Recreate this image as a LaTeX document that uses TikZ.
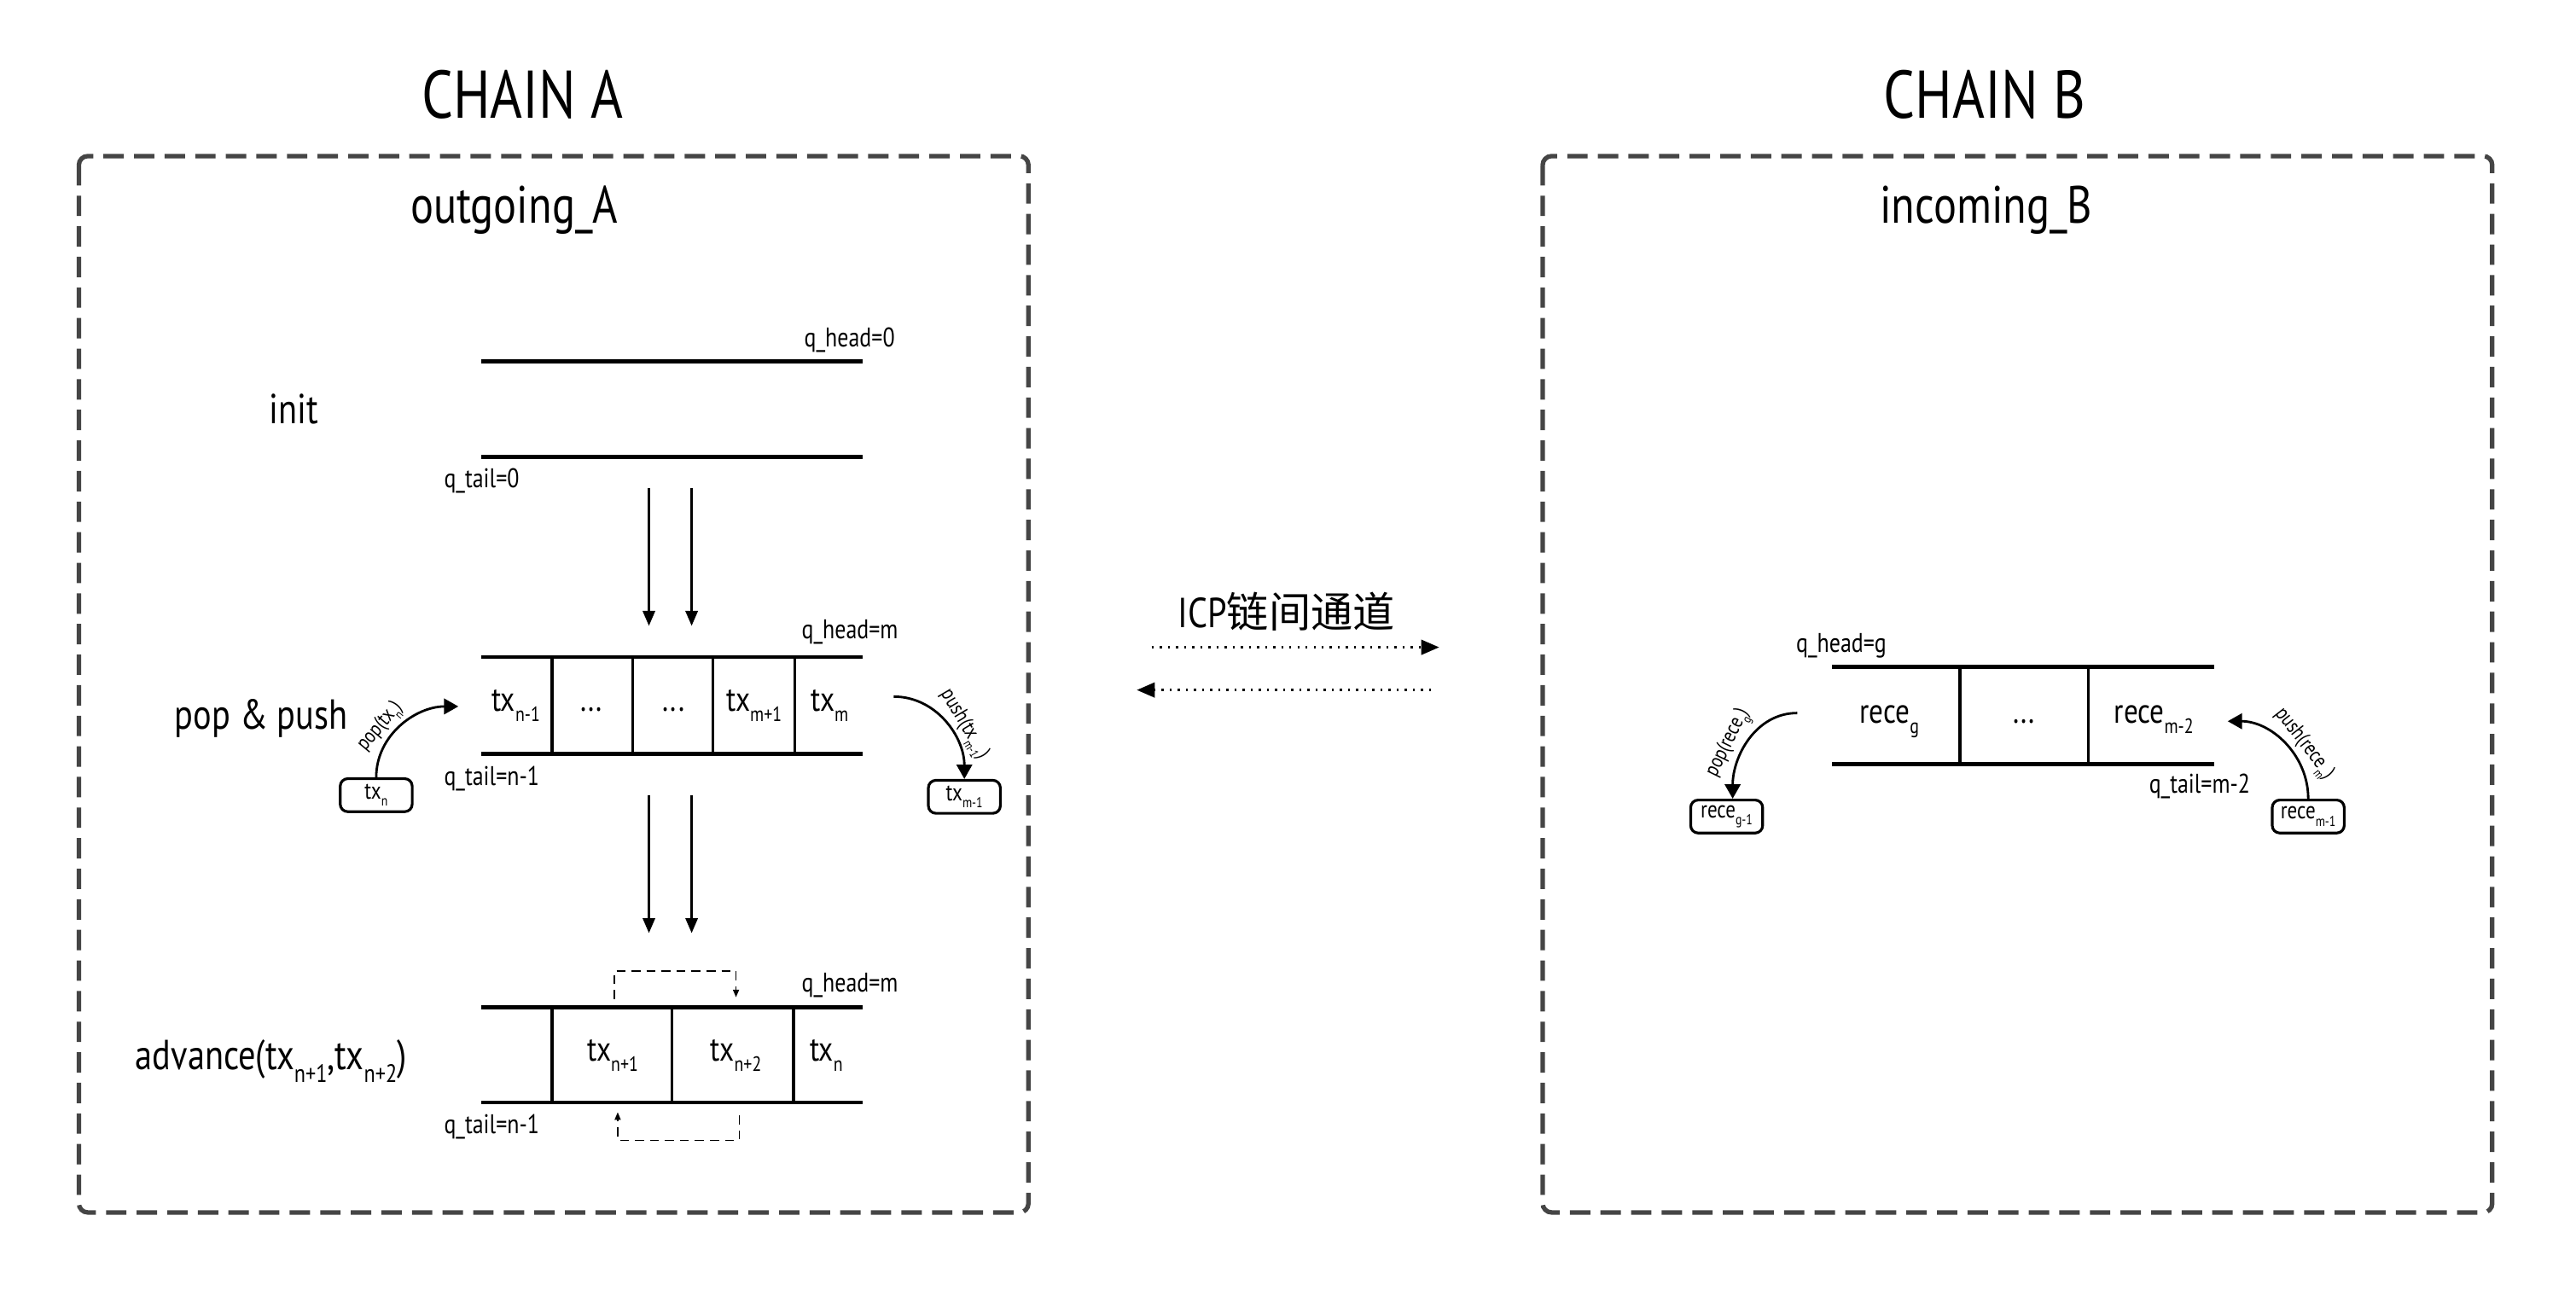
\documentclass[tikz,border=0pt]{standalone}
\usepackage{fontspec}
\setmainfont{PT Sans}[FakeStretch=0.82]
\newfontfamily\cjk{Noto Sans CJK SC}
\usepackage{graphicx}
\usepackage{tikz}
\usetikzlibrary{positioning,arrows.meta}
\newcommand{\lo}[1]{\raisebox{-0.6ex}{\scalebox{0.6}{#1}}}

\begin{document}
\begin{tikzpicture}[x=0.19254mm,y=-0.19254mm,
  chain/.style={font=\fontsize{22.5}{26}\selectfont, anchor=base, inner sep=0pt},
  queue/.style={font=\fontsize{17.5}{21}\selectfont, anchor=base, inner sep=0pt},
  stage/.style={font=\fontsize{14}{17}\selectfont, anchor=base, inner sep=0pt},
  cell/.style={font=\fontsize{11.5}{14}\selectfont, anchor=base, inner sep=0pt},
  ptr/.style={font=\fontsize{9}{11}\selectfont, inner sep=0pt},
  item/.style={draw, line width=0.9pt, rounded corners=2.5pt, minimum width=24pt, minimum height=11pt, inner sep=0pt, font=\fontsize{8}{9}\selectfont},
  lane/.style={line width=1.3pt},
  wall/.style={line width=0.9pt},
  frame/.style={draw=black!73, line width=1.5pt, dash pattern=on 6.8pt off 3.4pt, rounded corners=3pt},
  feed/.style={line width=0.9pt, -{Triangle[length=5pt,width=4pt]}},
  turn/.style={line width=0.8pt, -{Triangle[length=4.8pt,width=5.2pt]}},
  op/.style={font=\fontsize{7}{8}\selectfont, inner sep=0.8pt},
  link/.style={line width=0.7pt, dotted, -{Triangle[length=6pt,width=5pt]}},
  hop/.style={line width=0.4pt, densely dashed, -{Triangle[length=2.5pt,width=2pt]}}]
\useasboundingbox (0,0) rectangle (1568,789);
% Frames
\draw[frame] (48,95) rectangle (626,738);
\draw[frame] (939,95) rectangle (1517,738);
% Titles
\node[chain] (chainA) at (318,72) {CHAIN A};
\node[chain] (chainB) at (1208,72) {CHAIN B};
\node[queue] (outA) at (313,136) {outgoing\_A};
\node[queue] (inB) at (1209,136) {incoming\_B};
% Stages
\node[stage] (init) at (179,258) {init};
\node[stage] (pp) at (159,444) {pop \& push};
\node[stage] (adv) at (165,651) {advance(tx\lo{n+1},tx\lo{n+2})};
% Queue 0: init
\draw[lane] (293,220) -- (525,220);
\draw[lane] (293,278) -- (525,278);
\node[ptr, anchor=base east] (h0) at (545,211) {q\_head=0};
\node[ptr, anchor=base west] (t0) at (270,297) {q\_tail=0};
\coordinate (s1a) at (395,297); \coordinate (e1a) at (395,381);
\coordinate (s1b) at (421,297); \coordinate (e1b) at (421,381);
\draw[feed] (s1a) -- (e1a);
\draw[feed] (s1b) -- (e1b);
% Queue 1: pop & push
\draw[lane] (293,400) -- (525,400);
\draw[lane] (293,459) -- (525,459);
\foreach \x in {336,385,434,484} \draw[wall] (\x,400) -- (\x,459);
\node[cell] (c11) at (314,433) {tx\lo{n-1}};
\node[cell] (c12) at (360,433) {...};
\node[cell] (c13) at (410,433) {...};
\node[cell] (c14) at (459,433) {tx\lo{m+1}};
\node[cell] (c15) at (505,433) {tx\lo{m}};
\node[ptr, anchor=base east] (h1) at (547,389) {q\_head=m};
\node[ptr, anchor=base west] (t1) at (270,478) {q\_tail=n-1};
\node[item] (txn) at (229,484) {tx\lo{n}};
\node[item] (txm1) at (587,485) {tx\lo{m-1}};
\coordinate (popA) at (279,430);
\coordinate (pushA) at (544,424);
\draw[turn] (txn.north) to[out=90,in=180] node[op, sloped, above, pos=0.38] {pop(tx\lo{n})} (popA);
\draw[turn] (pushA) to[out=0,in=90] node[op, sloped, above, pos=0.6] {push(tx\lo{m-1})} (txm1.north);
\coordinate (s2a) at (395,484); \coordinate (e2a) at (395,568);
\coordinate (s2b) at (421,484); \coordinate (e2b) at (421,568);
\draw[feed] (s2a) -- (e2a);
\draw[feed] (s2b) -- (e2b);
% Queue 2: advance
\draw[lane] (293,613) -- (525,613);
\draw[lane] (293,671) -- (525,671);
\foreach \x in {336,409,483} \draw[wall] (\x,613) -- (\x,671);
\node[cell] (c21) at (373,646) {tx\lo{n+1}};
\node[cell] (c22) at (448,646) {tx\lo{n+2}};
\node[cell] (c23) at (503,646) {tx\lo{n}};
\node[ptr, anchor=base east] (h2) at (547,604) {q\_head=m};
\node[ptr, anchor=base west] (t2) at (270,690) {q\_tail=n-1};
\coordinate (ha) at (374,608); \coordinate (hb) at (448,607);
\coordinate (ta) at (450,679); \coordinate (tb) at (376,677);
\draw[hop] (ha) -- (374,591) -| (hb);
\draw[hop] (ta) -- (450,694) -| (tb);
% ICP channel
\node[stage] (icp) at (783,382) {ICP{\cjk 链间通道}};
\coordinate (ia) at (701,394); \coordinate (ib) at (876,394);
\coordinate (ja) at (871,420); \coordinate (jb) at (692,420);
\draw[link] (ia) -- (ib);
\draw[link] (ja) -- (jb);
% Queue B: incoming
\draw[lane] (1115,406) -- (1348,406);
\draw[lane] (1115,465) -- (1348,465);
\foreach \x in {1193,1271} \draw[wall] (\x,406) -- (\x,465);
\node[cell] (b1) at (1150,440) {rece\lo{g}};
\node[cell] (b2) at (1232,440) {...};
\node[cell] (b3) at (1311,440) {rece\lo{m-2}};
\node[ptr, anchor=base west] (hB) at (1093,397) {q\_head=g};
\node[ptr, anchor=base east] (tB) at (1370,483) {q\_tail=m-2};
\node[item] (rg1) at (1051,497) {rece\lo{g-1}};
\node[item] (rm1) at (1405,497) {rece\lo{m-1}};
\coordinate (popB) at (1094,434);
\coordinate (pushB) at (1356,439);
\draw[turn] (popB) to[out=180,in=90] node[op, sloped, above, pos=0.6] {pop(rece\lo{g})} ([xshift=2pt]rg1.north);
\draw[turn] (rm1.north) to[out=90,in=0] node[op, sloped, above, pos=0.4] {push(rece\lo{m})} (pushB);
\end{tikzpicture}
\end{document}
